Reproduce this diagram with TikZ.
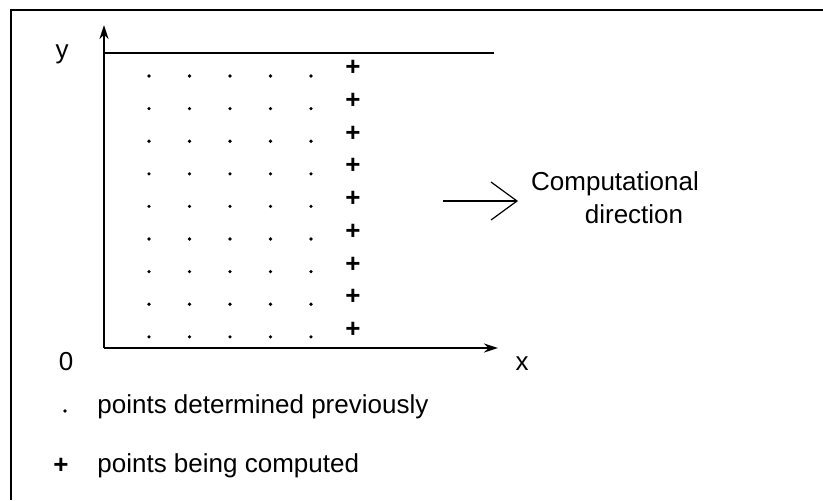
\documentclass[tikz,border=0pt]{standalone}
\usepackage{fontspec}
\setmainfont{Liberation Sans}
\usetikzlibrary{arrows.meta}

\begin{document}
\begin{tikzpicture}[x=0.5pt, y=-0.5pt, font=\fontsize{13}{15}\selectfont,
  lbl/.style={anchor=base, inner sep=0},
  plus/.style={inner sep=0, font=\fontsize{13}{15}\selectfont\bfseries},
  axis/.style={black, line width=1pt, -{Stealth[length=7pt, width=4.5pt]}}]
\useasboundingbox (0,0) rectangle (823,500);
% frame round the figure
\draw[line width=1.1pt] (11,500) -- (11,10) -- (823,10);
% axes and upper edge
\coordinate (O) at (104,348);
\coordinate (ytip) at (104,25);
\coordinate (xtip) at (498,348);
\coordinate (ytop) at (104,53);
\coordinate (yend) at (494,53);
\draw[axis] (O) -- (ytip);
\draw[axis] (O) -- (xtip);
\draw[line width=1pt] (ytop) -- (yend);
\node[lbl] (ylab) at (62,58) {y};
\node[lbl] (olab) at (66,370) {0};
\node[lbl] (xlab) at (522,370) {x};
% grid points
\foreach \i in {0,...,8} {
 \foreach \j in {0,...,4}
  \fill (149+40.5*\j, 76+32.6*\i) circle (1.8);
 \node[plus] (p\i) at (353, 68+32.75*\i) {+};
}
% computational direction
\coordinate (dstart) at (443,201);
\coordinate (dend) at (518,201);
\draw[line width=0.6pt, -{Straight Barb[length=13pt, width=19pt, line width=0.6pt]}] (dstart) -- (dend);
\node[lbl] (comp) at (615,190) {Computational};
\node[lbl] (dir) at (634,223) {direction};
% legend
\fill (65,411) circle (1.8);
\node[lbl, anchor=base west] (prev) at (97,413) {points determined previously};
\node[plus] (lplus) at (61,466) {+};
\node[lbl, anchor=base west] (curr) at (97,472) {points being computed};
\end{tikzpicture}
\end{document}
